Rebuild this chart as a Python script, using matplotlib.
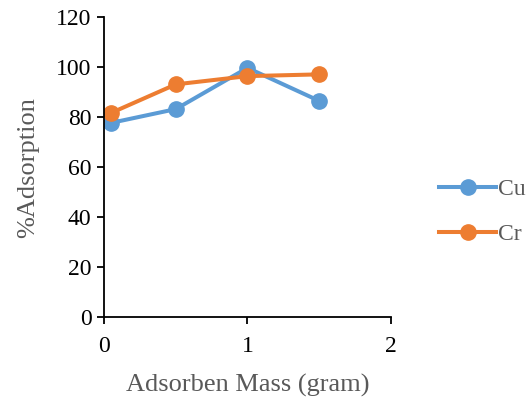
import matplotlib

matplotlib.use("Agg")
import matplotlib.pyplot as plt

plt.rcParams["font.family"] = ["Liberation Serif", "DejaVu Serif"]

mass_g = [0.05, 0.5, 1.0, 1.5]
cu_adsorption = [77.7, 83.2, 99.7, 86.5]
cr_adsorption = [81.7, 93.1, 96.4, 97.1]
series_names = ["Cu", "Cr"]
x_ticks = [0, 1, 2]
y_ticks = [0, 20, 40, 60, 80, 100, 120]

TEXT = "#595959"

fig = plt.figure(figsize=(5.31, 3.99), dpi=100)
ax = fig.add_axes([0.196, 0.2055, 0.54, 0.7515])

ax.plot(mass_g, cu_adsorption, color="#5b9bd5", lw=2.9, marker="o", ms=11, label=series_names[0])
ax.plot(mass_g, cr_adsorption, color="#ed7d31", lw=2.9, marker="o", ms=11, label=series_names[1])

ax.set_xlim(0, 2)
ax.set_ylim(0, 120)
ax.set_xticks(x_ticks)
ax.set_yticks(y_ticks)
ax.spines["top"].set_visible(False)
ax.spines["right"].set_visible(False)
for side in ("left", "bottom"):
    ax.spines[side].set_linewidth(1.3)
ax.tick_params(direction="out", length=5, width=1.3, labelsize=17, labelcolor="black")
ax.tick_params(axis="x", pad=9)
ax.tick_params(axis="y", pad=4)

ax.set_xlabel("Adsorben Mass (gram)", fontsize=19, color=TEXT, labelpad=12)
ax.set_ylabel("%Adsorption", fontsize=19, color=TEXT, labelpad=12)

ax.legend(loc="center left", bbox_to_anchor=(1.095, 0.35), frameon=False, fontsize=17,
          labelcolor=TEXT, handlelength=2.4, handletextpad=0.1, labelspacing=1.0)

fig.savefig("out.png", dpi=100)
